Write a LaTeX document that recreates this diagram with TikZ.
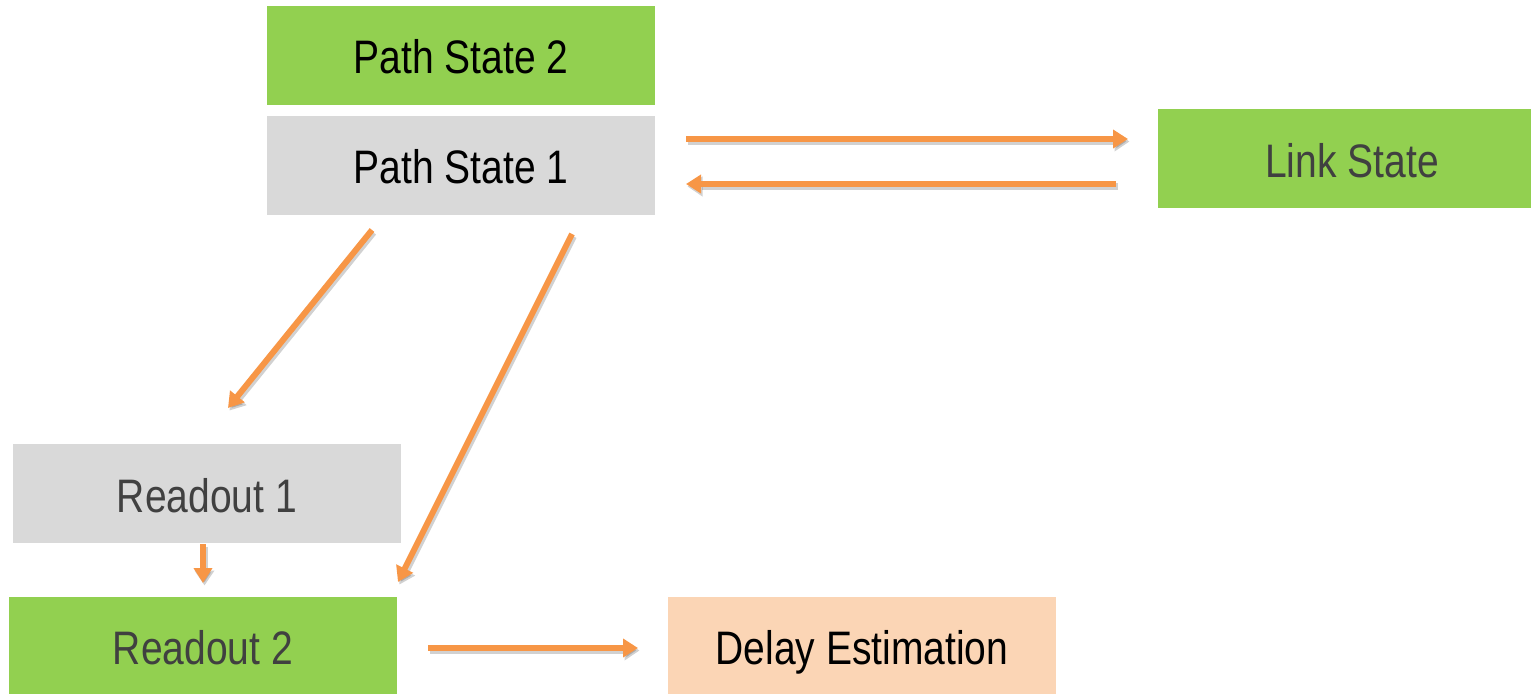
\documentclass[tikz,border=0pt]{standalone}
\usepackage{fontspec}
\setmainfont{Liberation Sans}[FakeStretch=0.83]
\usetikzlibrary{arrows.meta}
\definecolor{boxgreen}{HTML}{92D050}
\definecolor{boxgray}{HTML}{D9D9D9}
\definecolor{boxpeach}{HTML}{FBD5B5}
\definecolor{arroworange}{HTML}{F79646}
\definecolor{darktext}{HTML}{404040}
\tikzset{
  box/.style={rectangle, inner sep=0pt, minimum width=388pt, minimum height=99pt,
    text height=37pt, text depth=0pt,
    font=\fontsize{47}{56}\selectfont},
  greenbox/.style={box, fill=boxgreen},
  graybox/.style={box, fill=boxgray},
  peachbox/.style={box, fill=boxpeach},
  flow/.style={draw=arroworange, line width=6pt,
    -{Triangle[length=15pt,width=18pt]}},
  flowshadow/.style={draw=black, opacity=0.18, line width=6.5pt,
    -{Triangle[length=15pt,width=19pt]}, transform canvas={xshift=1.5pt,yshift=-2.5pt}}
}
\newcommand{\flowarrow}[2]{%
  \draw[flowshadow] (#1) -- (#2);
  \draw[flow] (#1) -- (#2);}
\begin{document}
\begin{tikzpicture}[x=1pt,y=-1pt]
  \useasboundingbox (0,0) rectangle (1531,695);

  % state boxes
  \node[greenbox] (ps2) at (461,55.5) {Path State 2};
  \node[graybox]  (ps1) at (461,165.5) {Path State 1};
  \node[greenbox, text=darktext] (link) at (1352,159) {Link State};
  \node[graybox, text=darktext]  (r1) at (207,493.5) {Readout 1};
  \node[greenbox, text=darktext, minimum height=97pt] (r2) at (203,645.5) {Readout 2};
  \node[peachbox, minimum height=97pt] (delay) at (862,645.5) {Delay Estimation};

  % arrow end points (arrows stop short of the boxes)
  \coordinate (ps1out)  at (686,139);
  \coordinate (linkin)  at (1128,139);
  \coordinate (linkout) at (1116,184);
  \coordinate (ps1in)   at (686,184);
  \coordinate (ps1a)    at (372,230);
  \coordinate (r1in)    at (228,408);
  \coordinate (ps1b)    at (572,234);
  \coordinate (r2inb)   at (398,582);
  \coordinate (r1out)   at (203,544);
  \coordinate (r2ina)   at (203,583);
  \coordinate (r2out)   at (428,648);
  \coordinate (delayin) at (638,648);

  % connectors
  \flowarrow{ps1out}{linkin}
  \flowarrow{linkout}{ps1in}
  \flowarrow{ps1a}{r1in}
  \flowarrow{ps1b}{r2inb}
  \flowarrow{r1out}{r2ina}
  \flowarrow{r2out}{delayin}
\end{tikzpicture}
\end{document}
